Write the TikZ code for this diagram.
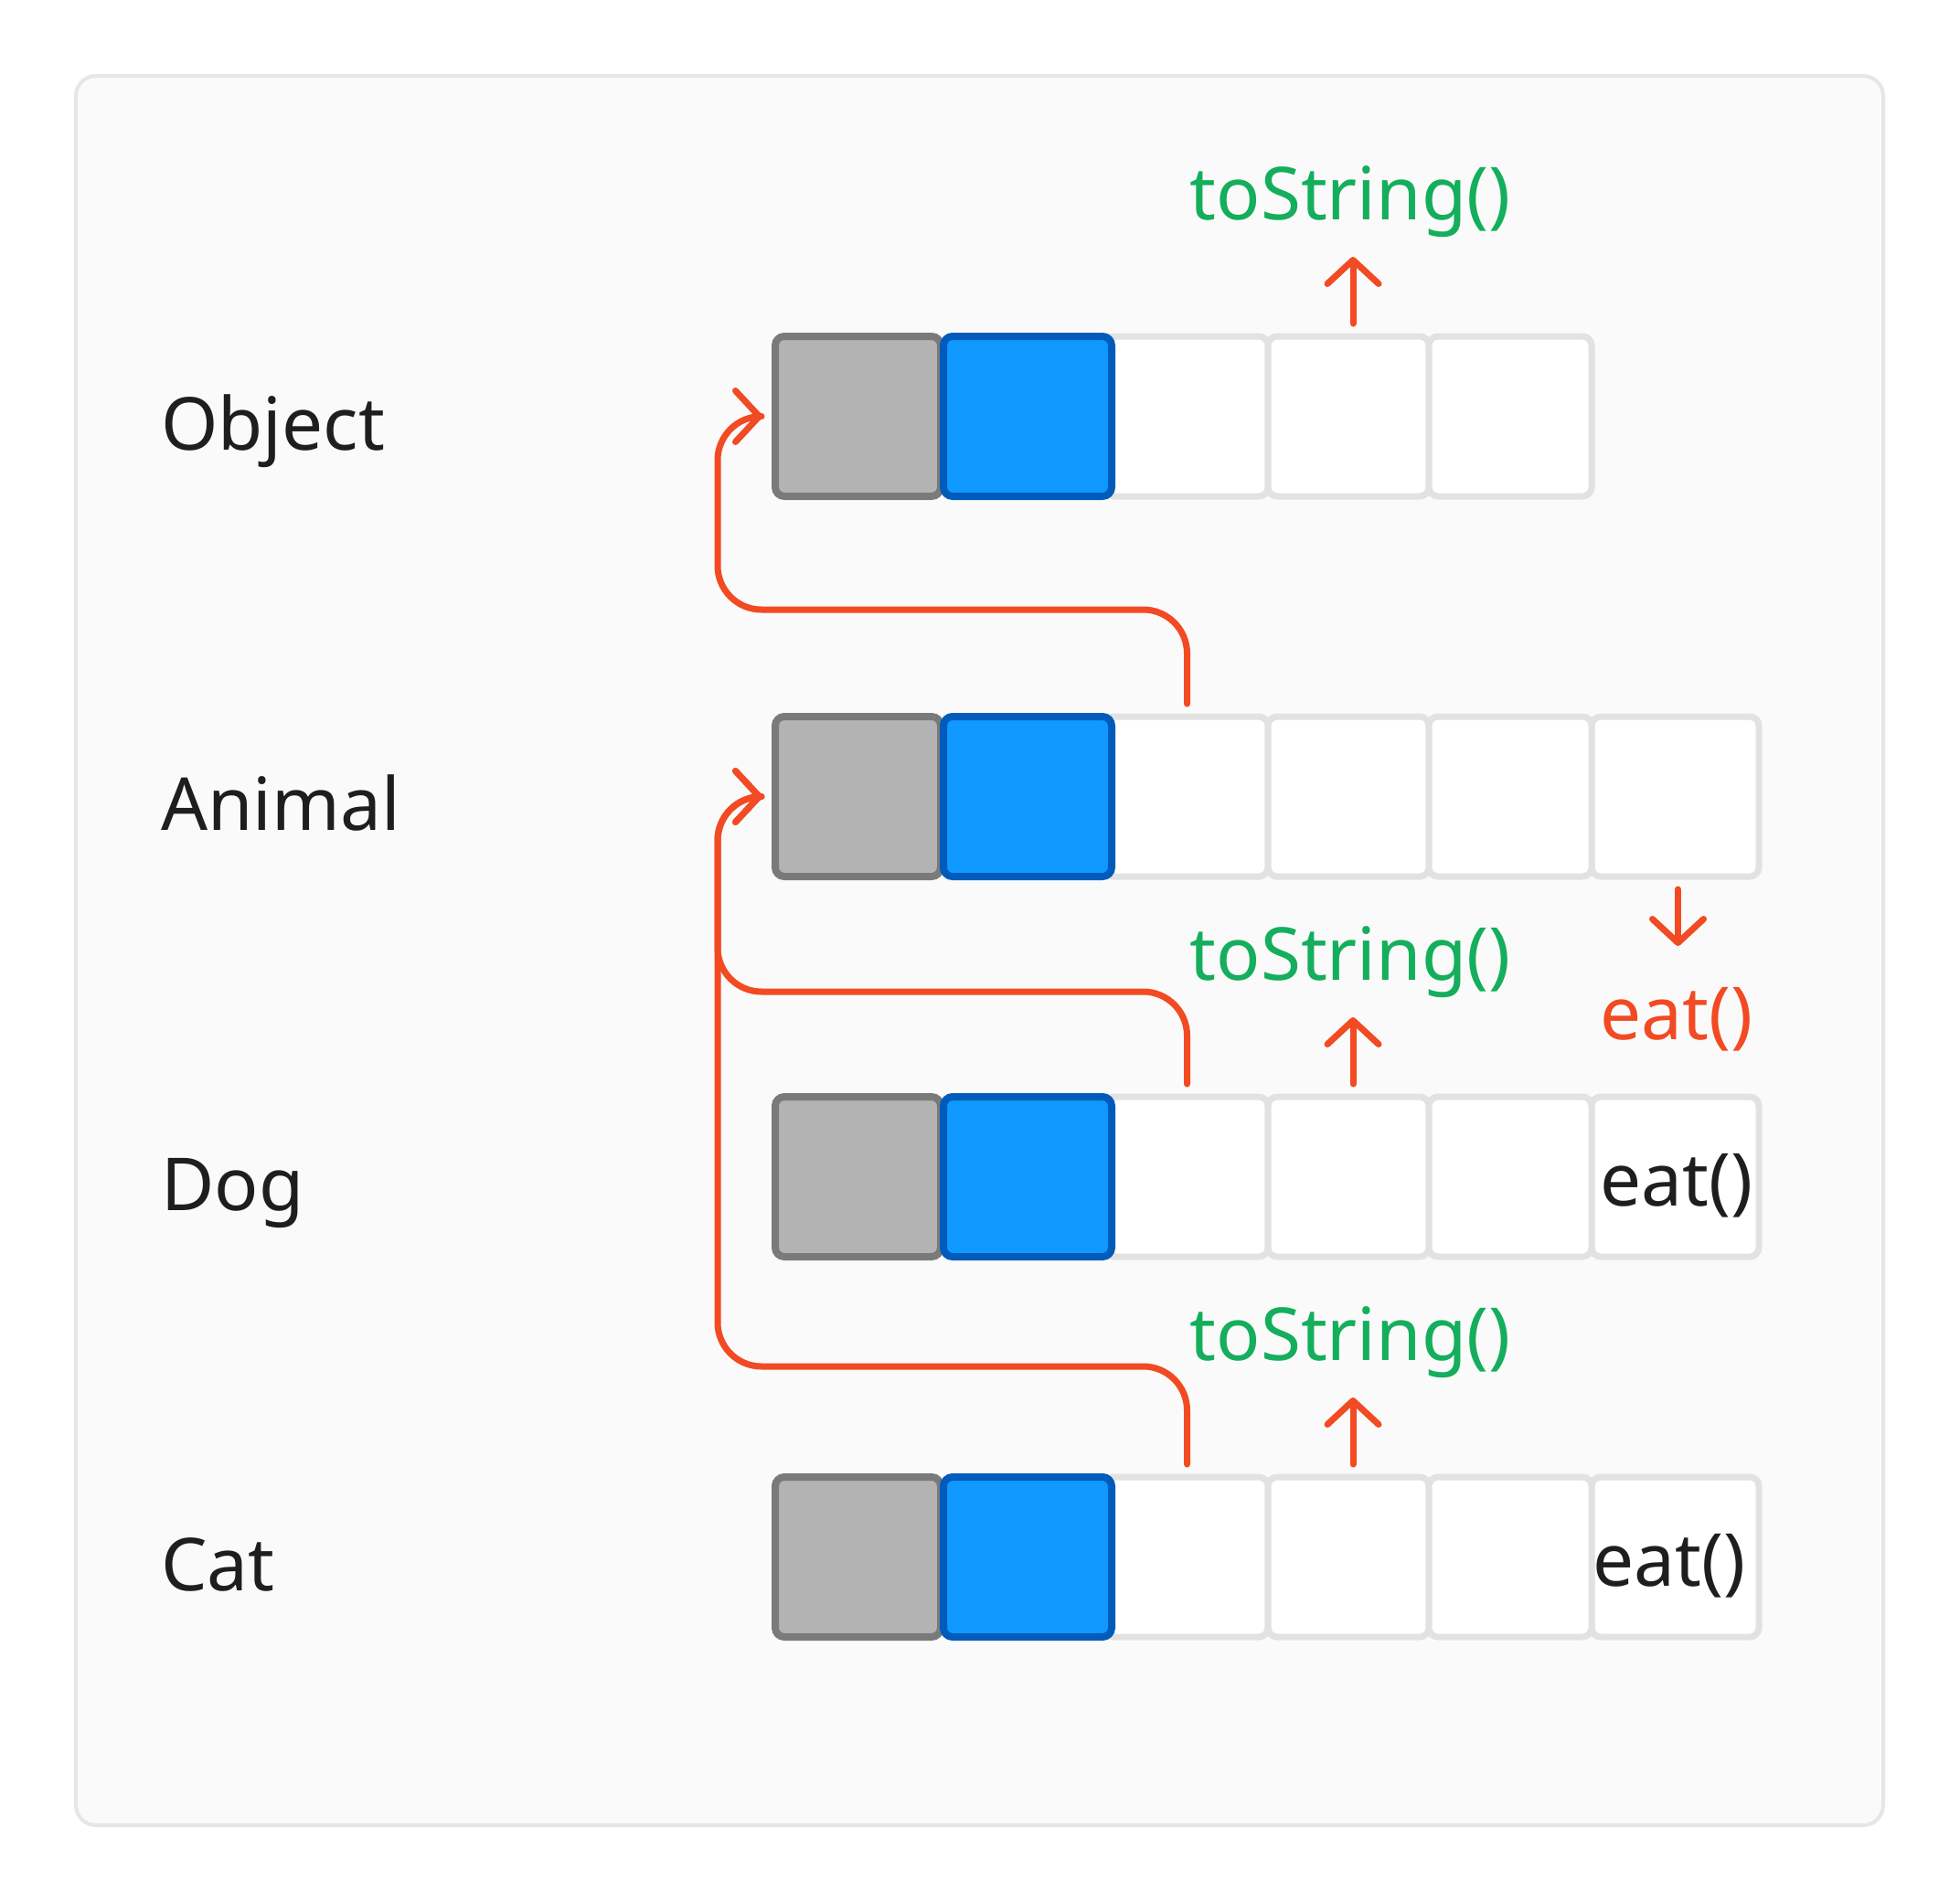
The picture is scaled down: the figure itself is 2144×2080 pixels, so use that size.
\documentclass[tikz,border=0pt]{standalone}
\usepackage{fontspec}
\setmainfont{Noto Sans}
\usetikzlibrary{arrows.meta}
\definecolor{framefill}{HTML}{FAFAFA}
\definecolor{frameline}{HTML}{E6E6E6}
\definecolor{cellline}{HTML}{E2E2E2}
\definecolor{hdrfill}{HTML}{B3B3B3}
\definecolor{hdrline}{HTML}{7A7A7A}
\definecolor{vtbfill}{HTML}{0F99FF}
\definecolor{vtbline}{HTML}{005BBB}
\definecolor{accent}{HTML}{F24A22}
\definecolor{methgreen}{HTML}{14AE5C}
\definecolor{ink}{HTML}{1E1E1E}
\newcommand\mkrow[2]{%
  \node[cell, minimum width=179pt] (#1c3) at (1297.5,#2) {};
  \node[cell, minimum width=176pt] (#1c4) at (1475,#2) {};
  \node[cell, minimum width=178pt] (#1c5) at (1652,#2) {};
  \node[hdr, minimum width=181pt] (#1c1) at (938.5,#2) {};
  \node[vtb, minimum width=184pt] (#1c2) at (1124,#2) {};
}
\begin{document}
\begin{tikzpicture}[x=1pt,y=-1pt,
  cell/.style={draw=cellline, fill=white, line width=7pt, rounded corners=10pt,
    minimum height=175pt, inner sep=0pt, outer sep=0pt},
  hdr/.style={cell, draw=hdrline, fill=hdrfill, line width=8pt},
  vtb/.style={cell, draw=vtbline, fill=vtbfill, line width=8pt},
  lbl/.style={anchor=base west, text=ink, inner sep=0pt, font=\fontsize{80}{96}\selectfont},
  meth/.style={anchor=base, inner sep=0pt, font=\fontsize{80}{96}\selectfont},
  link/.style={draw=accent, line width=7pt, line cap=round, line join=round,
    -{Straight Barb[length=26pt,width=56pt,round]}},
  elbowlink/.style={link, rounded corners=48pt}
]
\fill[white] (0,0) rectangle (2144,2080);
\useasboundingbox (0,0) rectangle (2144,2080);
\draw[draw=frameline, fill=framefill, line width=4pt, rounded corners=22pt] (83,83) rectangle (2060,1997);

% rows of cells
\mkrow{O}{455.5}
\node[cell, minimum width=183pt] (Ac6) at (1832.5,871.5) {};
\mkrow{A}{871.5}
\node[cell, minimum width=183pt] (Dc6) at (1832.5,1287.5) {};
\mkrow{D}{1287.5}
\node[cell, minimum width=183pt] (Cc6) at (1832.5,1703.5) {};
\mkrow{C}{1703.5}

% class labels
\node[lbl] (lO) at (176,492) {Object};
\node[lbl] (lA) at (176,908) {Animal};
\node[lbl] (lD) at (176,1324) {Dog};
\node[lbl] (lC) at (176,1740) {Cat};

% method labels
\node[meth, text=methgreen] (tsO) at (1477,240) {toString()};
\node[meth, text=methgreen] (tsD) at (1477,1072) {toString()};
\node[meth, text=methgreen] (tsC) at (1477,1488) {toString()};
\node[meth, text=accent] (eatA) at (1834,1137) {eat()};
\node[meth, text=ink] (eatD) at (1834,1319) {eat()};
\node[meth, text=ink] (eatC) at (1826,1735) {eat()};

% short arrows
\draw[link] ([yshift=14pt,xshift=5pt]Oc4.north) -- ([yshift=87pt,xshift=5pt]Oc4.north);
\draw[link] ([yshift=14pt,xshift=5pt]Dc4.north) -- ([yshift=87pt,xshift=5pt]Dc4.north);
\draw[link] ([yshift=14pt,xshift=5pt]Cc4.north) -- ([yshift=87pt,xshift=5pt]Cc4.north);
\draw[link] ([yshift=-14pt,xshift=3pt]Ac6.south) -- ([yshift=-76pt,xshift=3pt]Ac6.south);

% parent links
\coordinate (jO) at (785,667);
\coordinate (jD) at (785,1085);
\coordinate (jC) at (785,1495);
\draw[elbowlink, shorten >=14pt] ([yshift=14pt,xshift=1pt]Ac3.north) |- (jO) |- (Oc1.west);
\draw[elbowlink, shorten >=14pt] ([yshift=14pt,xshift=1pt]Dc3.north) |- (jD) |- (Ac1.west);
\draw[elbowlink, shorten >=14pt] ([yshift=14pt,xshift=1pt]Cc3.north) |- (jC) |- (Ac1.west);
\end{tikzpicture}
\end{document}
